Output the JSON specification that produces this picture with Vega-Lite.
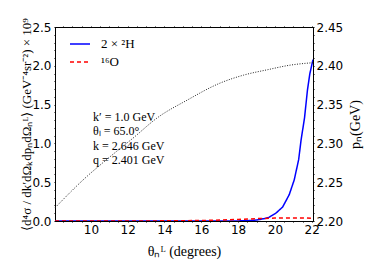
{
  "$schema": "https://vega.github.io/schema/vega-lite/v6.json",
  "width": 258,
  "height": 194,
  "autosize": {"type": "none"},
  "padding": {"left": 55, "top": 27, "right": 56, "bottom": 56},
  "background": "white",
  "config": {
    "view": {"stroke": "black", "strokeWidth": 1},
    "axis": {
      "labelFont": "DejaVu Sans", "labelFontSize": 12, "labelColor": "black",
      "titleFont": "Liberation Serif", "titleFontSize": 14, "titleColor": "black", "titleFontWeight": "normal",
      "domainColor": "black", "tickColor": "black", "tickWidth": 1, "grid": false, "tickSize": 1, "labelPadding": 3,
      "labelFlush": false, "labelOverlap": false
    }
  },
  "layer": [
    {
      "data": {"values": [
        {"theta": 8.05, "sigma": 0, "series": "2 × ²H"},
        {"theta": 10, "sigma": 0, "series": "2 × ²H"},
        {"theta": 12, "sigma": 0, "series": "2 × ²H"},
        {"theta": 14, "sigma": 0, "series": "2 × ²H"},
        {"theta": 16, "sigma": 0, "series": "2 × ²H"},
        {"theta": 17, "sigma": 0.0, "series": "2 × ²H"},
        {"theta": 18, "sigma": 0.001, "series": "2 × ²H"},
        {"theta": 18.5, "sigma": 0.004, "series": "2 × ²H"},
        {"theta": 19, "sigma": 0.012, "series": "2 × ²H"},
        {"theta": 19.5, "sigma": 0.035, "series": "2 × ²H"},
        {"theta": 19.7, "sigma": 0.05, "series": "2 × ²H"},
        {"theta": 20.05, "sigma": 0.1, "series": "2 × ²H"},
        {"theta": 20.42, "sigma": 0.18, "series": "2 × ²H"},
        {"theta": 20.78, "sigma": 0.34, "series": "2 × ²H"},
        {"theta": 21.05, "sigma": 0.53, "series": "2 × ²H"},
        {"theta": 21.29, "sigma": 0.79, "series": "2 × ²H"},
        {"theta": 21.42, "sigma": 1.04, "series": "2 × ²H"},
        {"theta": 21.61, "sigma": 1.33, "series": "2 × ²H"},
        {"theta": 21.77, "sigma": 1.69, "series": "2 × ²H"},
        {"theta": 21.9, "sigma": 1.9, "series": "2 × ²H"},
        {"theta": 22.07, "sigma": 2.08, "series": "2 × ²H"},
        {"theta": 8.05, "sigma": 0, "series": "¹⁶O"},
        {"theta": 12, "sigma": 0, "series": "¹⁶O"},
        {"theta": 14, "sigma": 0.002, "series": "¹⁶O"},
        {"theta": 16, "sigma": 0.006, "series": "¹⁶O"},
        {"theta": 17, "sigma": 0.012, "series": "¹⁶O"},
        {"theta": 18, "sigma": 0.02, "series": "¹⁶O"},
        {"theta": 19, "sigma": 0.03, "series": "¹⁶O"},
        {"theta": 20, "sigma": 0.038, "series": "¹⁶O"},
        {"theta": 21, "sigma": 0.04, "series": "¹⁶O"},
        {"theta": 21.5, "sigma": 0.04, "series": "¹⁶O"},
        {"theta": 22.07, "sigma": 0.035, "series": "¹⁶O"}
      ]},
      "mark": {"type": "line", "strokeWidth": 1.5, "clip": true},
      "encoding": {
        "x": {"field": "theta", "type": "quantitative",
          "scale": {"domain": [8.05, 22.07], "nice": false, "zero": false},
          "axis": {
            "orient": "bottom",
            "values": [8.5,9,9.5,10,10.5,11,11.5,12,12.5,13,13.5,14,14.5,15,15.5,16,16.5,17,17.5,18,18.5,19,19.5,20,20.5,21,21.5,22],
            "labelExpr": "datum.value % 2 === 0 ? format(datum.value, 'd') : ''",
            "labelPadding": 2,
            "title": "θₙᴸ (degrees)",
            "titlePadding": 9,
            "encode": {"ticks": {"update": {"y2": {"signal": "datum.value % 2 === 0 ? -5 : -2.5"}}}}
          }
        },
        "y": {"field": "sigma", "type": "quantitative",
          "scale": {"domain": [0, 2.5], "nice": false},
          "axis": {
            "orient": "left",
            "values": [0,0.1,0.2,0.3,0.4,0.5,0.6,0.7,0.8,0.9,1,1.1,1.2,1.3,1.4,1.5,1.6,1.7,1.8,1.9,2,2.1,2.2,2.3,2.4,2.5],
            "labelExpr": "round(datum.value*10) % 5 === 0 ? format(datum.value, '.1f') : ''",
            "title": "⟨d⁴σ / dk′dΩₖdpₙdΩₙᴸ⟩ (GeV⁻⁴sr⁻²) × 10⁹",
            "titleFontSize": 13,
            "titlePadding": -2,
            "encode": {"ticks": {"update": {"x2": {"signal": "round(datum.value*10) % 5 === 0 ? 5 : 2.5"}}}}
          }
        },
        "color": {"field": "series", "type": "nominal",
          "scale": {"domain": ["2 × ²H", "¹⁶O"], "range": ["#0000ff", "#ff0000"]},
          "legend": {
            "orient": "none", "legendX": 14, "legendY": 6, "title": null,
            "symbolType": "stroke", "symbolSize": 400, "symbolStrokeWidth": 1.5,
            "labelFont": "Liberation Serif", "labelFontSize": 13, "labelColor": "black",
            "labelOffset": 10, "rowPadding": 0
          }
        },
        "strokeDash": {"field": "series", "type": "nominal",
          "scale": {"domain": ["2 × ²H", "¹⁶O"], "range": [[1, 0], [4, 3]]},
          "legend": null
        }
      }
    },
    {
      "data": {"values": [
        {"theta": 8.05, "pN": 2.217},
        {"theta": 9.58, "pN": 2.253},
        {"theta": 11, "pN": 2.282},
        {"theta": 12.3, "pN": 2.307},
        {"theta": 13.61, "pN": 2.333},
        {"theta": 15.25, "pN": 2.356},
        {"theta": 17.05, "pN": 2.378},
        {"theta": 18.3, "pN": 2.388},
        {"theta": 19.61, "pN": 2.395},
        {"theta": 20.87, "pN": 2.401},
        {"theta": 22.07, "pN": 2.404}
      ]},
      "mark": {"type": "line", "strokeDash": [1, 1.5], "color": "#222222", "strokeWidth": 1, "interpolate": "monotone"},
      "encoding": {
        "x": {"field": "theta", "type": "quantitative",
          "scale": {"domain": [8.05, 22.07], "nice": false, "zero": false},
          "axis": {
            "orient": "top", "labels": false, "title": null,
            "values": [8.5,9,9.5,10,10.5,11,11.5,12,12.5,13,13.5,14,14.5,15,15.5,16,16.5,17,17.5,18,18.5,19,19.5,20,20.5,21,21.5,22],
            "encode": {"ticks": {"update": {"y2": {"signal": "datum.value % 2 === 0 ? 5 : 2.5"}}}}
          }
        },
        "y": {"field": "pN", "type": "quantitative",
          "scale": {"domain": [2.2, 2.45], "nice": false, "zero": false},
          "axis": {
            "orient": "right",
            "values": [2.2,2.21,2.22,2.23,2.24,2.25,2.26,2.27,2.28,2.29,2.3,2.31,2.32,2.33,2.34,2.35,2.36,2.37,2.38,2.39,2.4,2.41,2.42,2.43,2.44,2.45],
            "labelExpr": "round(datum.value*100) % 5 === 0 ? format(datum.value, '.2f') : ''",
            "labelPadding": 2,
            "title": "pₙ(GeV)",
            "titleAngle": 270,
            "titleFontSize": 14,
            "titlePadding": 20,
            "encode": {"ticks": {"update": {"x2": {"signal": "round(datum.value*100) % 5 === 0 ? -5 : -2.5"}}}}
          }
        }
      }
    },
    {
      "data": {"values": [{"note": "params"}]},
      "mark": {
        "type": "text",
        "text": ["k′ = 1.0 GeV", "θₗ = 65.0°", "k = 2.646 GeV", "q = 2.401 GeV"],
        "font": "Liberation Serif", "fontSize": 12, "lineHeight": 14.6,
        "align": "left", "baseline": "top", "color": "black"
      },
      "encoding": {
        "x": {"datum": 10.12, "scale": {"domain": [8.05, 22.07], "nice": false, "zero": false}, "axis": null},
        "y": {"datum": 1.41, "scale": {"domain": [0, 2.5], "nice": false}, "axis": null}
      }
    }
  ],
  "resolve": {"scale": {"x": "independent", "y": "independent"}}
}
